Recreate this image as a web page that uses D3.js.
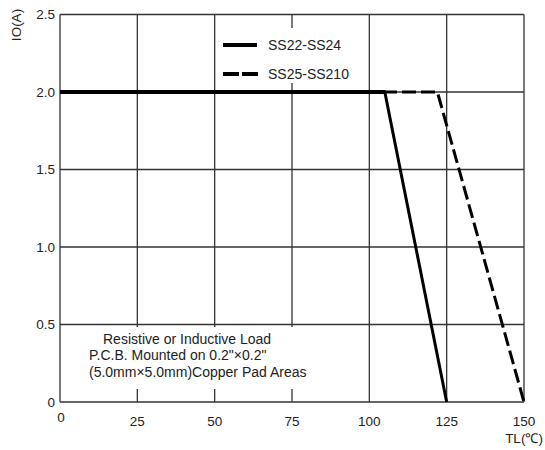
<!DOCTYPE html>
<html>
<head>
<meta charset="utf-8">
<script src="https://cdn.jsdelivr.net/npm/d3@7"></script>
<style>
  body { margin: 0; background: #fff; }
  text { font-family: Arial, "Liberation Sans", sans-serif; fill: #222; }
</style>
</head>
<body>
<svg id="chart" width="545" height="450"></svg>
<script>
// data
var xTicks = [0, 25, 50, 75, 100, 125, 150];
var yTicks = [0, 0.5, 1.0, 1.5, 2.0, 2.5];
var yTickLabels = ['0', '0.5', '1.0', '1.5', '2.0', '2.5'];
var seriesNames = ['SS22-SS24', 'SS25-SS210'];
var ss22 = [[0, 2.0], [105, 2.0], [125, 0]];
var ss25 = [[0, 2.0], [122, 2.0], [150, 0]];
var noteLines = ['Resistive or Inductive Load', 'P.C.B. Mounted on 0.2"\u00d70.2"', '(5.0mm\u00d75.0mm)Copper Pad Areas'];

var svg = d3.select('#chart');
var x = d3.scaleLinear().domain([0, 150]).range([60, 524]);
var y = d3.scaleLinear().domain([0, 2.5]).range([402, 14.5]);

// grid
var grid = svg.append('g').attr('stroke', '#333').attr('stroke-width', 1.3);
grid.selectAll('.vg').data(xTicks).enter().append('line')
  .attr('x1', d => x(d)).attr('x2', d => x(d))
  .attr('y1', y(0)).attr('y2', y(2.5));
grid.selectAll('.hg').data(yTicks).enter().append('line')
  .attr('x1', x(0)).attr('x2', x(150))
  .attr('y1', d => y(d)).attr('y2', d => y(d));

// white boxes behind legend and note
svg.append('rect').attr('x', 218).attr('y', 28).attr('width', 147).attr('height', 55).attr('fill', '#fff');
svg.append('rect').attr('x', 62).attr('y', 327).attr('width', 262).attr('height', 62).attr('fill', '#fff');

// axes labels
svg.selectAll('.yl').data(yTicks).enter().append('text')
  .attr('x', 55).attr('y', d => y(d)).attr('dy', '0.35em')
  .attr('text-anchor', 'end').attr('font-size', 13.5)
  .text((d, i) => yTickLabels[i]);
svg.selectAll('.xl').data(xTicks).enter().append('text')
  .attr('x', d => x(d) + (d == 0 ? 1 : 0)).attr('y', d => d == 0 ? 422 : 426)
  .attr('text-anchor', 'middle').attr('font-size', 13.5)
  .text(d => d);
svg.append('text').attr('x', 524).attr('y', 443).attr('text-anchor', 'middle')
  .attr('font-size', 13.5).text('TL(\u2103)');
svg.append('text').attr('transform', 'translate(21,25) rotate(-90)')
  .attr('text-anchor', 'middle').attr('font-size', 13.5).text('IO(A)');

// curves
var line = d3.line().x(d => x(d[0])).y(d => y(d[1]));
svg.append('path').datum(ss25).attr('d', line).attr('fill', 'none')
  .attr('stroke', '#000').attr('stroke-width', 3).attr('stroke-dasharray', '14,5');
svg.append('path').datum(ss22).attr('d', line).attr('fill', 'none')
  .attr('stroke', '#000').attr('stroke-width', 3);
// flat part is drawn heavier
svg.append('line').attr('x1', x(0)).attr('x2', x(ss22[1][0])).attr('y1', y(2)).attr('y2', y(2))
  .attr('stroke', '#000').attr('stroke-width', 4);

// legend
var leg = svg.append('g');
leg.append('line').attr('x1', 223).attr('x2', 257).attr('y1', 45).attr('y2', 45)
  .attr('stroke', '#000').attr('stroke-width', 4);
leg.append('line').attr('x1', 223).attr('x2', 258).attr('y1', 74).attr('y2', 74)
  .attr('stroke', '#000').attr('stroke-width', 4).attr('stroke-dasharray', '16,3');
leg.selectAll('text').data(seriesNames).enter().append('text')
  .attr('x', 268).attr('y', (d, i) => i == 0 ? 45 : 74).attr('dy', '0.35em')
  .attr('font-size', 14).text(d => d);

// note
svg.selectAll('.note').data(noteLines).enter().append('text')
  .attr('x', (d, i) => i == 0 ? 103 : 89).attr('y', (d, i) => 339 + i * 16.5).attr('dy', '0.35em')
  .attr('font-size', 14).text(d => d);
</script>
</body>
</html>
